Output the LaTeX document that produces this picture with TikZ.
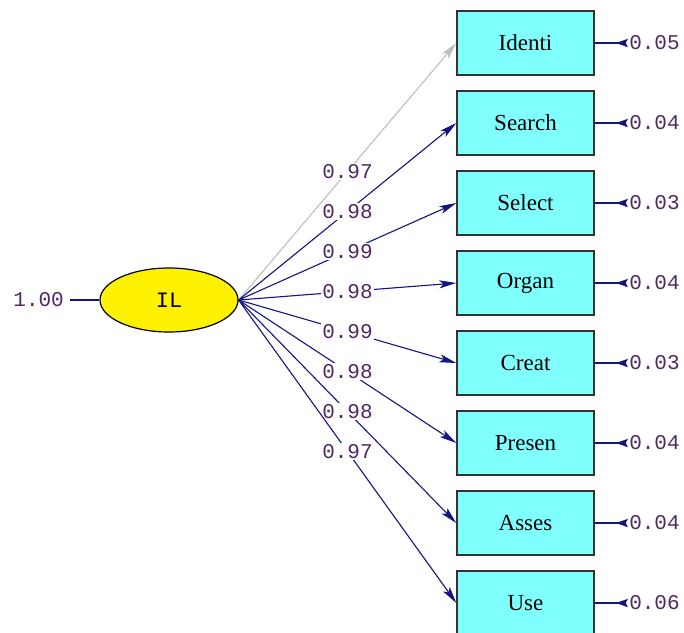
\documentclass[tikz,border=0pt]{standalone}
\usepackage{fontspec}
\usetikzlibrary{positioning,shapes.geometric,arrows.meta}
\setmainfont{Liberation Serif}
\newfontfamily\numfont{Liberation Mono}
\definecolor{boxcyan}{RGB}{128,255,255}
\definecolor{pathblue}{RGB}{20,20,130}
\definecolor{pathgray}{RGB}{190,190,190}
\definecolor{numcol}{RGB}{80,40,100}

\begin{document}
\begin{tikzpicture}[x=1pt,y=-1pt,line width=1.1pt,node distance=80pt,
    obs node/.style={rectangle,draw=black!80,line width=1.4pt,fill=boxcyan,minimum width=137pt,minimum height=64pt,font=\fontsize{23}{25}\selectfont},
    lat node/.style={ellipse,draw=black,line width=1.2pt,fill=yellow,minimum width=138pt,minimum height=64pt,font=\numfont\fontsize{22}{24}\selectfont},
    num/.style={font=\numfont\fontsize{21}{24}\selectfont,text=numcol,inner sep=1pt},
    load/.style={pathblue,-{Stealth[length=17pt,width=8pt,inset=4pt]}},
    err/.style={pathblue,line width=2pt,-{Stealth[reversed,length=12pt,width=8pt,inset=2pt]}}]
    \useasboundingbox (0,0) rectangle (684,632);

    \node[lat node] (0) at (169,300) {IL};
    \node[num] (10) [left=34pt of 0] {1.00};

    \node[obs node] (1) at (525.5,43) {Identi};
    \node[obs node] (2) [below of = 1] {Search};
    \node[obs node] (3) [below of = 2] {Select};
    \node[obs node] (4) [below of = 3] {Organ};
    \node[obs node] (5) [below of = 4] {Creat};
    \node[obs node] (6) [below of = 5] {Presen};
    \node[obs node] (7) [below of = 6] {Asses};
    \node[obs node] (8) [below of = 7] {Use};

    \node[num] (11) [right=33pt of 1] {0.05};
    \node[num] (12) [right=33pt of 2] {0.04};
    \node[num] (13) [right=33pt of 3] {0.03};
    \node[num] (14) [right=33pt of 4] {0.04};
    \node[num] (15) [right=33pt of 5] {0.03};
    \node[num] (16) [right=33pt of 6] {0.04};
    \node[num] (17) [right=33pt of 7] {0.04};
    \node[num] (18) [right=33pt of 8] {0.06};

    \draw[pathblue,shorten <=5pt] (10.east) -- (0.west);

    \draw[load,pathgray] (0.east) -- node[num,fill=white] {0.97} (1.west);
    \draw[load] (0.east) -- node[num,fill=white] {0.98} (2.west);
    \draw[load] (0.east) -- node[num,fill=white] {0.99} (3.west);
    \draw[load] (0.east) -- node[num,fill=white] {0.98} (4.west);
    \draw[load] (0.east) -- node[num,fill=white] {0.99} (5.west);
    \draw[load] (0.east) -- node[num,fill=white] {0.98} (6.west);
    \draw[load] (0.east) -- node[num,fill=white] {0.98} (7.west);
    \draw[load] (0.east) -- node[num,fill=white] {0.97} (8.west);

    \draw[err] (1.east) -- (11.west);
    \draw[err] (2.east) -- (12.west);
    \draw[err] (3.east) -- (13.west);
    \draw[err] (4.east) -- (14.west);
    \draw[err] (5.east) -- (15.west);
    \draw[err] (6.east) -- (16.west);
    \draw[err] (7.east) -- (17.west);
    \draw[err] (8.east) -- (18.west);
\end{tikzpicture}
\end{document}
